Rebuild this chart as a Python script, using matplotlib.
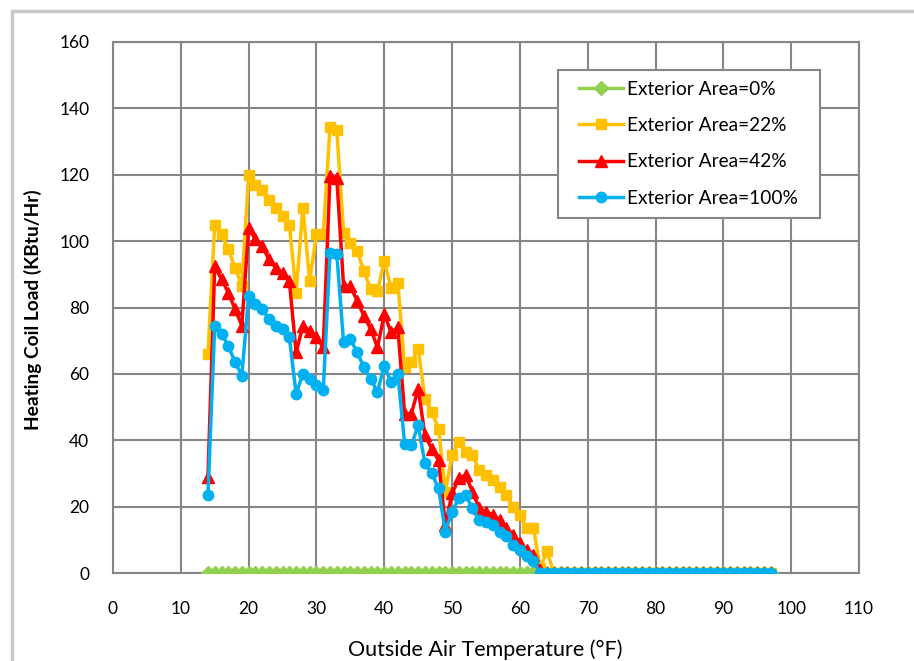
import matplotlib
matplotlib.use("Agg")
import matplotlib.pyplot as plt
import matplotlib.patches as patches

# temperaturas (°F)
temps = list(range(14, 98))

# cargas (kBtu/h), 14..65 e depois zero ate 97
area_0 = [0] * 84
area_22 = [66, 105, 102, 97.5, 92, 86.5,
           120, 117, 115.5, 112.5, 110, 107.5, 105,
           84.5, 110, 88, 102, 102,
           134.5, 133.5, 102.5, 99.5, 97, 91, 85.5, 85, 94,
           86, 87.5, 62, 63.5, 67.5, 52.5, 48.5, 43.5,
           24.5, 35.5, 39.5, 36.5, 35.5, 31, 29.5, 28, 26, 23.5, 20, 17.5, 13.5, 13.5,
           1.5, 6.5, 0] + [0] * 32
area_42 = [29, 92.5, 88.5, 84.5, 79.5, 74.5,
           104, 100.5, 98.5, 94.5, 92, 90.5, 88,
           66.5, 74.5, 73, 71, 68,
           119.5, 119, 86.5, 86.5, 82, 77.5, 73.5, 68, 78,
           72.5, 74, 48, 48, 55.5, 41.5, 37.5, 34,
           14.5, 24, 28.5, 29.5, 24.5, 19.5, 18.5, 17.5, 16, 13.5, 11.5, 9, 7, 5.5,
           1, 0, 0] + [0] * 32
area_100 = [23.5, 74.5, 72, 68.5, 63.5, 59.5,
            83.5, 81, 79.5, 76.5, 74.5, 73.5, 71,
            54, 60, 58.5, 56.5, 55,
            96.5, 96, 69.5, 70.5, 66.5, 62, 58.5, 54.5, 62.5,
            57.5, 60, 39, 38.5, 44.5, 33, 30, 25.5,
            12.5, 18.5, 22.5, 23.5, 19.5, 16, 15.5, 14.5, 12.5, 11, 8.5, 7, 5, 3.5,
            0, 0, 0] + [0] * 32

labels = ['Exterior Area=0%', 'Exterior Area=22%', 'Exterior Area=42%', 'Exterior Area=100%']
x_ticks = list(range(0, 111, 10))
y_ticks = list(range(0, 161, 20))

plt.rcParams['font.family'] = ['Lato', 'DejaVu Sans']

W, H = 914, 661
fig = plt.figure(figsize=(W / 100, H / 100), dpi=100)

# moldura externa do grafico
moldura = patches.Rectangle((12 / W, -0.1), 1.2, 1 - 11 / H + 0.1, transform=fig.transFigure,
                            fill=False, edgecolor='#c8c8c8', linewidth=2.5)
fig.patches.append(moldura)

ax = fig.add_axes([113 / W, (H - 573) / H, (859 - 113) / W, (573 - 42) / H])

ax.set_xlim(0, 110)
ax.set_ylim(0, 160)

ax.plot(temps, area_0, color='#92D050', marker='D', markersize=7.5, linewidth=2.5, label=labels[0], zorder=3)
ax.plot(temps, area_22, color='#FFC000', marker='s', markersize=7.5, linewidth=2.5, label=labels[1], zorder=4)
ax.plot(temps, area_42, color='#FF0000', marker='^', markersize=8.5, linewidth=2.5, label=labels[2], zorder=5)
ax.plot(temps, area_100, color='#00B0F0', marker='o', markersize=7.5, linewidth=2.5, label=labels[3], zorder=6)

ax.set_xticks(x_ticks)
ax.set_yticks(y_ticks)
ax.grid(True, color='#868686', linewidth=1.5)
ax.set_axisbelow(True)
for s in ax.spines.values():
    s.set_color('#868686')
    s.set_linewidth(1.5)
ax.tick_params(axis='x', length=0, pad=20, labelsize=12.5)
ax.tick_params(axis='y', length=0, pad=17, labelsize=12.5)

ax.set_ylabel('Heating Coil Load (KBtu/Hr)', fontsize=13.8, fontweight='bold', va='center')
ax.yaxis.set_label_coords(33 / W, 1 - 310 / H, transform=fig.transFigure)
ax.set_xlabel('Outside Air Temperature (°F)', fontsize=15.5, va='center')
ax.xaxis.set_label_coords(485 / W, 1 - 650 / H, transform=fig.transFigure)

# caixa da legenda desenhada a parte
caixa = patches.Rectangle((558 / W, 1 - 218 / H), 262 / W, 148 / H, transform=fig.transFigure,
                          facecolor='white', edgecolor='#868686', linewidth=1.5, zorder=9, clip_on=False)
ax.add_patch(caixa)

leg = ax.legend(loc='upper left', bbox_to_anchor=(579 / W, 1 - 81 / H), bbox_transform=fig.transFigure,
                borderaxespad=0, borderpad=0, frameon=False,
                fontsize=13.8, handlelength=2.3, labelspacing=1.0, handletextpad=0.2)
leg.set_zorder(10)

plt.savefig('out.png', dpi=100)
plt.close()
